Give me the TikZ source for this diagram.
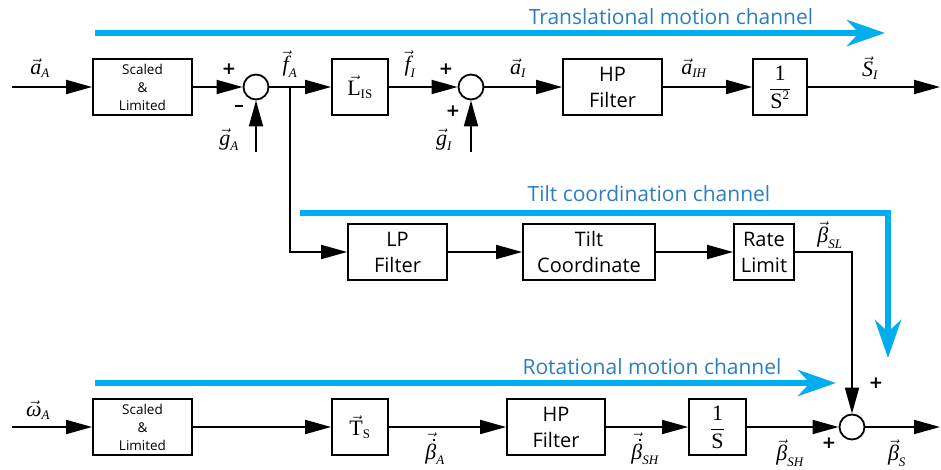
\documentclass[tikz,border=0pt]{standalone}
\usepackage{fontspec}
\setmainfont{Liberation Serif}
\newfontfamily\boxfont{Open Sans}
\newfontfamily\signfont{DejaVu Sans}
\usetikzlibrary{arrows.meta}
\definecolor{chanblue}{HTML}{00AEEF}
\definecolor{chantext}{HTML}{2B7EC1}
\newcommand{\vlab}[2]{$\vec{\mbox{\itshape #1}}_{\mbox{\fontsize{13}{13}\selectfont\itshape #2}}$}
\newcommand{\bdot}{\vbox{\offinterlineskip\halign{\hfil##\hfil\cr\kern0.3em\rule{2.6pt}{2.6pt}\cr\noalign{\kern0.12em}\itshape β\cr}}}
\newcommand{\vdlab}[1]{$\vec{\mbox{\bdot}}_{\mbox{\fontsize{13}{13}\selectfont\itshape #1}}$}
\newcommand{\vulab}[2]{$\vec{\mbox{#1}}_{\mbox{\fontsize{13}{13}\selectfont #2}}$}
\begin{document}
\begin{tikzpicture}[x=1pt,y=-1pt,
  blk/.style={draw, line width=1.8pt, minimum height=56pt, inner sep=0pt, align=center, font=\boxfont\fontsize{20}{26}\selectfont},
  smallblk/.style={blk, font=\boxfont\fontsize{13.5}{18}\selectfont},
  mathblk/.style={blk, font=\fontsize{22}{24}\selectfont},
  sumc/.style={circle, draw, line width=1.8pt, minimum size=25pt, inner sep=0pt},
  sig/.style={line width=1.8pt, -{Triangle[length=26pt,width=14pt]}},
  chan/.style={line width=6pt, draw=chanblue, line join=miter, -{Stealth[length=38pt,width=26pt,inset=12pt]}},
  chanlab/.style={text=chantext, font=\boxfont\fontsize{21}{21}\selectfont},
  lab/.style={font=\fontsize{22}{22}\selectfont, inner sep=0pt},
  sgn/.style={font=\signfont\bfseries\fontsize{17}{17}\selectfont, inner sep=0pt}]
\useasboundingbox (0,0) rectangle (941,470);

% channel arrows
\coordinate (t0) at (95,33); \coordinate (t1) at (885,33);
\draw[chan] (t0) -- (t1);
\node[chanlab] (tl) at (671,17) {Translational motion channel};
\coordinate (c0) at (300,213); \coordinate (c1) at (888,213); \coordinate (c2) at (888,358);
\draw[chan] (c0) -- (c1) -- (c2);
\node[chanlab] (cl) at (649,194) {Tilt coordination channel};
\coordinate (r0) at (95,383); \coordinate (r1) at (836,383);
\draw[chan] (r0) -- (r1);
\node[chanlab] (rl) at (652,367) {Rotational motion channel};

% top row
\coordinate (inA) at (12,87);
\node[smallblk, minimum width=99pt] (sc1) at (142.5,87) {Scaled\\\&\\Limited};
\node[sumc] (sum1) at (256,87) {};
\coordinate (gA) at (256,152);
\coordinate (br) at (290,87);
\node[mathblk, minimum width=56pt] (LIS) at (360,87) {\vulab{L}{IS}};
\node[sumc] (sum2) at (471,87) {};
\coordinate (gI) at (471,152);
\node[blk, minimum width=99pt] (HP1) at (612.5,87) {HP\\Filter};
\node[mathblk, minimum width=54pt] (S2) at (780,87) {$\displaystyle\frac{\mbox{1}}{\mbox{S}^{\mbox{\fontsize{13}{13}\selectfont 2}}}$};
\coordinate (out1) at (940,87);

% tilt row
\node[blk, minimum width=99pt] (LP) at (397.5,252) {LP\\Filter};
\node[blk, minimum width=132pt] (Tilt) at (589,252) {Tilt\\Coordinate};
\node[blk, minimum width=60pt] (Rate) at (764,252) {Rate\\Limit};

% bottom row
\coordinate (inW) at (12,427);
\node[smallblk, minimum width=99pt] (sc2) at (142.5,427) {Scaled\\\&\\Limited};
\node[mathblk, minimum width=56pt] (TS) at (360,427) {\vulab{T}{S}};
\node[blk, minimum width=98pt] (HP2) at (556,427) {HP\\Filter};
\node[mathblk, minimum width=57pt] (S1) at (717.5,427) {$\displaystyle\frac{\mbox{1}}{\mbox{S}}$};
\node[sumc] (sum3) at (852,427) {};
\coordinate (out2) at (940,427);

% connectors
\draw[sig] (inA) -- (sc1);
\draw[sig] (sc1) -- (sum1);
\draw[sig] (gA) -- (sum1);
\draw[sig] (sum1) -- (LIS);
\draw[sig] (LIS) -- (sum2);
\draw[sig] (gI) -- (sum2);
\draw[sig] (sum2) -- (HP1);
\draw[sig] (HP1) -- (S2);
\draw[sig] (S2) -- (out1);
\draw[sig] (br) |- (LP.west);
\draw[sig] (LP) -- (Tilt);
\draw[sig] (Tilt) -- (Rate);
\draw[sig] (Rate.east) -| (sum3.north);
\draw[sig] (inW) -- (sc2);
\draw[sig] (sc2) -- (TS);
\draw[sig] (TS) -- (HP2);
\draw[sig] (HP2) -- (S1);
\draw[sig] (S1) -- (sum3);
\draw[sig] (sum3) -- (out2);

% signal labels
\node[lab] (laA) at (40,68) {\vlab{a}{A}};
\node[lab] (lfA) at (290,64) {\vlab{f}{A}};
\node[lab] (lfI) at (410,64) {\vlab{f}{I}};
\node[lab] (laI) at (518,68) {\vlab{a}{I}};
\node[lab] (laIH) at (694,68) {\vlab{a}{IH}};
\node[lab] (lSI) at (870,68) {\vlab{S}{I}};
\node[lab] (lgA) at (229,140) {\vlab{g}{A}};
\node[lab] (lgI) at (444,140) {\vlab{g}{I}};
\node[lab] (lbSL) at (830,235) {\vlab{β}{SL}};
\node[lab] (lbS) at (897,453) {\vlab{β}{S}};
\node[lab] (lbA) at (435,449) {\vdlab{A}};
\node[lab] (lbSH1) at (645,449) {\vdlab{SH}};
\node[lab] (lbSH2) at (790,453) {\vlab{β}{SH}};
\node[lab] (lwA) at (38,410) {\vlab{ω}{A}};

% signs
\node[sgn] (p1) at (229,69) {+};
\node[fill=black, inner sep=0pt, minimum width=8pt, minimum height=2.6pt] (m1) at (239,106) {};
\node[sgn] (p2) at (446,69) {+};
\node[sgn] (p3) at (453,111) {+};
\node[sgn] (p4) at (876,383) {+};
\node[sgn] (p5) at (829,443) {+};
\end{tikzpicture}
\end{document}
